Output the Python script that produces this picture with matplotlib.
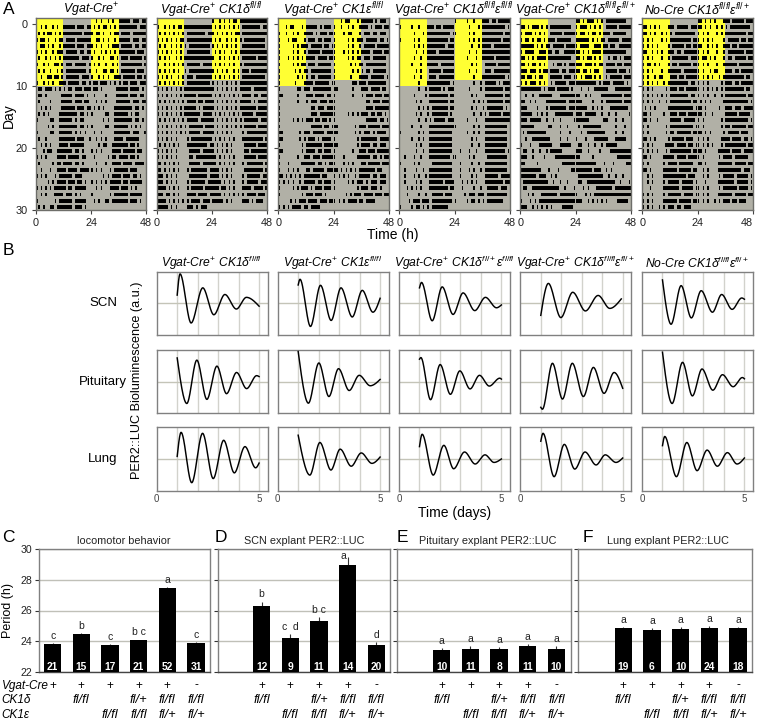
import numpy as np
import matplotlib
matplotlib.use('Agg')
import matplotlib.pyplot as plt
from matplotlib.patches import Rectangle
from matplotlib.transforms import blended_transform_factory

plt.rcParams['font.family'] = ['Liberation Sans', 'DejaVu Sans']
plt.rcParams['mathtext.fontset'] = 'custom'
plt.rcParams['mathtext.rm'] = 'Liberation Sans'
plt.rcParams['mathtext.it'] = 'Liberation Sans:italic'
plt.rcParams['mathtext.bf'] = 'Liberation Sans:bold'

W, H = 757, 721
fig = plt.figure(figsize=(W / 100, H / 100), dpi=100)


def axpx(l, t, r, b):
    return fig.add_axes([l / W, 1 - b / H, (r - l) / W, (b - t) / H])


def tpx(x, y, s, **k):
    k.setdefault('ha', 'center')
    k.setdefault('va', 'center')
    fig.text(x / W, 1 - y / H, s, **k)


# ---------- panel A: activity per day, one character per hour ----------
act_titles = ["Vgat-Cre$^{+}$", "Vgat-Cre$^{+}$ CK1δ$^{fl/fl}$", "Vgat-Cre$^{+}$ CK1ε$^{fl/fl}$",
              "Vgat-Cre$^{+}$ CK1δ$^{fl/fl}$ε$^{fl/fl}$", "Vgat-Cre$^{+}$ CK1δ$^{fl/fl}$ε$^{fl/+}$",
              "No-Cre CK1δ$^{fl/fl}$ε$^{fl/+}$"]
act1 = """..#.#..#.#..#####.###.##
.#.#.##.#.#.########.###
#.##.#..#.##.####.######
..##.#.#..#.#####.###.##
#.#.#..#.###.#####.##.##
.#..#.#.#.#.#######.###.
#..#.#..##.#.###.#####.#
.#.#..#..#.#.#########.#
..#..##.##.#.######.###.
#..#.#.#..###.#####.##.#
.##.###.#.#.#.##.###.###
.##.#......#####.####.#.
.#....#....#####.###.##.
..#.#.#....######.###.##
.#.#.#....########.##.#.
#.....##..######.#.##...
.....#.#..########.##.#.
#.....##..######.#.#.#..
.#..#.....#######.###..#
..#.#.#...####.######...
...#.##..#######.##.#...
#.#.#....####.#####.##..
.#.....#.##.####.##.#...
..#...#..####.####.####.
#.#.#...#.######.###....
.....#.#.####.###.##.#..
#.#.#.#.#####.##.#####..
..#.#...####.###.#.#....
#.......#.######.#####..
.#.#..##.#######.###.#..""".split()
act2 = """#..#.#.#.##.############
.#.#.#.#.#.#.########.##
#.#.#.#.#.##.###########
.#.#..#.#.#.#.#########.
#.#.#.#.#.#..##########.
.#.#.#..#.#.############
#..#.#.#.#.#.######.####
.#.#.#.#.#..#.##########
#.#.#.#..#.#.###.#######
.#.#.#.#.#.#.##########.
#.#.#.#.#.#.############
#.#.#.#.#.#.#####.######
.#.#.#.#.#.#.####.##.###
#.#.#.#.#.#.#####.#.####
#.#.#.#.#.#.#######.####
.#.#.#.#.#.#.#####.#####
#.#.#.#.#.#.#.######.###
#.#.#.#.#.#.#.#####.####
#.#.#.#.#....#.#########
.#.#.#.#.#...#########.#
#.#.#.#.#.....#####.####
#.#.#.#.#.....##.#######
##.#.#.#.#....#####.####
##.#.#.#.#...#.#######.#
###.#.#.#.....########.#
###.#.#.#....#.######.##
####.#.#.#...#.#####.###
###.##.#.#...####.####.#
####.#.#.#.#.#.####.###.
#####.#.#....###.#.###..""".split()
act3 = """...#.##...#.#####.#.###.
#..#..#.#..####.#.###.##
#...#.##...#.###.##.###.
#.....#.#.###.#####.##.#
#.....#.#..#.#####.#####
#...#.#.#.#.####.####.##
#.....#.#.##.###.######.
#......#.#.##.#########.
#.......#.#.#.##.######.
#......#...####.######.#
#.......##.###.########.
##......#...###.####.##.
#.......#...#.###.###.##
#.............##.###.###
#.............###.######
#.....#.#.#.###.##.##.#.
#.............#####.##.#
##.......#.###.#####.###
##.......#.#.###.#.####.
#.........#.#######.####
##........#.####.##.###.
#.......#..###.###.#####
#...#.....######.##.#.##
#...#.#.#...##.#####.###
##.#.#.#.#.#######.##...
#.#.#.#..#.#####.##.###.
#.....#.#.###.#.###.###.
#.........#.###.###.#...
.....#.#.###.####.###.##
#.#.#.####.##.####......""".split()
act4 = """#....#..#...###.##.#####
......#...#.##########.#
#.....#.#...#########.##
......#.#.#.########.###
.......#..#.####.#######
......#..#..############
.....#...#..#####.######
.......#.#...#####.#####
......#..#...###.#######
........#...##########.#
........#..#.#####.#.###
......#....#.########.##
.......#.#...########.##
........#.#.#.#######.##
.......#.#..#.#######.#.
........#..#.#.#####.###
.....#...#...###########
#.......#.#..##########.
.....#..#.#..##########.
.......#.#...##########.
.......#..#..##########.
..#...#..#...#########.#
#.....#.#.....#########.
..#....#..#..##########.
..#...#.#..#.##########.
..#....#.#...######.####
...#.#.#.#...########.##
...#....#..#..#####.###.
....#.###.###.#########.
#....#.##.#.#.#######...""".split()
act5 = """##.#.###.#.#.#########..
#.###.#.#.#..#####.#####
#.##.#.##.#.###.######..
######.#.#.##.#####.####
#.####..###.##.##..#####
##.#.#.####.##########..
##.#.##.#.#...#.##.#.###
###.###.#.##.####.##.###
##.##.#.##...#####.###.#
#.#.###.#.#..#.#####.###
#########.#.###.#####.#.
..#..#..######...#######
##..#.#....#########.###
###....#...#.#######.###
#####..#.#.#...########.
###.#####..#..#..#.....#
######......##...#..#...
.#.########......#...#..
..#..########....#..#...
#...#...######...#####..
.##..#..#..#.#####......
###..#....#....#########
##.....#..........######
#########...#...#.....##
#######.###..#.#........
.###########..#..#..#...
.##..############..#...#
...#.#...#######.#######
#...#.#.################
###..#.#.#.#.#....#####.""".split()
act6 = """##.#.#.#...###.#####.###
##.#.#..#.#.#.#########.
#.#.#...#.#.#########.##
#.#.#.#....#.#####.##.##
##..#.#.#..###.##.######
#.#.#...#..#.#######.###
#.##.#.#...#.##.#####.##
#.#.#...#..######.######
#.#..#.##...###.##.#####
#.#.#.#..#.#########.##.
#.#.#.....#.###.##.#####
#.#.#.#.#.#.########.##.
#.#.#..#..#.#########.##
.#.#.#.....###########.#
##.#.....#..###.###.####
##.#..#.....#####.#####.
#.#.......#.##########.#
#.#.......#.##.######.##
##.#.#.....#.#####.###..
#.#.#.....####.####.##.#
#.#.#.#...#.#########.##
##.#.....#####.####.####
#.#......#.####.######..
##.#.....######.#####.##
..#.#....##########.###.
..#.#....#.#####.#####.#
...#.....#######.#####.#
#.#.#....#.######.####.#
#.#.#....######.#####.##
#.#.#..#.#.###.##.###...""".split()
act_days = [act1, act2, act3, act4, act5, act6]
act_left = [35.7, 156.7, 278.3, 399.3, 520.3, 642.3]
LD_DAYS = 10
GREY_BG = '#b1b0a6'
YEL = '#ffff33'
FR = '#6e6e6a'


def runs(s):
    out, i = [], 0
    while i < len(s):
        if s[i] == '#':
            j = i
            while j < len(s) and s[j] == '#':
                j += 1
            if j - i == 1:
                out.append((i + 0.18, 0.64))
            else:
                out.append((i + 0.05, j - i - 0.1))
            i = j
        else:
            i += 1
    return out


for p, (days, left) in enumerate(zip(act_days, act_left)):
    ax = axpx(left, 18, left + 110.6, 210)
    ax.set_xlim(0, 48)
    ax.set_ylim(30, -1)
    ax.set_facecolor(GREY_BG)
    ax.add_patch(Rectangle((0, -1), 12, LD_DAYS + 1, fc=YEL, ec='none', zorder=1))
    ax.add_patch(Rectangle((24, -1), 12, LD_DAYS, fc=YEL, ec='none', zorder=1))
    for d, s in enumerate(days):
        r = runs(s)
        ax.broken_barh(r, (d + 0.2, 0.6), fc='black', ec='none', zorder=2)
        ax.broken_barh([(a + 24, b) for a, b in r], (d - 1 + 0.2, 0.6), fc='black', ec='none', zorder=2)
    ax.set_xticks([0, 24, 48])
    ax.set_yticks([0, 10, 20, 30])
    ax.tick_params(length=3, width=0.8, color='#444444', labelsize=7.8, labelcolor='#222222', pad=3)
    if p > 0:
        ax.set_yticklabels([])
    if p == 5:
        ax.get_xticklabels()[-1].set_ha('right')
        ax.get_xticklabels()[-1].set_x(48)
    for sp in ax.spines.values():
        sp.set_color(FR)
        sp.set_linewidth(1.0)
    tpx(left + 55, 10, act_titles[p], style='italic', fontsize=8.9)

tpx(8.5, 115.5, 'Day', rotation=90, fontsize=10)
tpx(393, 235, 'Time (h)', fontsize=10)
tpx(8.5, 10, 'A', fontsize=12.5)
tpx(8, 250, 'B', fontsize=12.5)

# ---------- panel B: explant traces, peak and trough readings ----------
b_titles = ["Vgat-Cre$^{+}$ CK1δ$^{fl/fl}$", "Vgat-Cre$^{+}$ CK1ε$^{fl/fl}$",
            "Vgat-Cre$^{+}$ CK1δ$^{fl/+}$ε$^{fl/fl}$", "Vgat-Cre$^{+}$ CK1δ$^{fl/fl}$ε$^{fl/+}$",
            "No-Cre CK1δ$^{fl/fl}$ε$^{fl/+}$"]
tissues = ['SCN', 'Pituitary', 'Lung']
b_left = [156.7, 277.7, 399.0, 520.3, 642.0]
b_top = [271.7, 350.0, 427.3]

t_11 = [1.0, 1.14, 1.68, 2.25, 2.79, 3.33, 3.89, 4.38, 5.0]
y_11 = [.26, .93, -.62, .49, -.36, .28, -.18, .19, -.09]
t_21 = [1.0, 1.47, 1.96, 2.45, 2.94, 3.41, 3.90, 4.39, 4.88, 5.0]
y_21 = [.75, -.69, .68, -.56, .49, -.38, .29, -.22, .19, .16]
t_31 = [1.0, 1.19, 1.71, 2.24, 2.76, 3.27, 3.79, 4.31, 4.83, 5.0]
y_31 = [.08, .84, -.75, .81, -.62, .59, -.44, .39, -.28, -.13]

t_12 = [1.0, 1.09, 1.60, 2.09, 2.61, 3.09, 3.64, 4.13, 4.65, 5.0]
y_12 = [.58, .76, -.73, .57, -.54, .49, -.43, .41, -.28, .16]
t_22 = [1.0, 1.50, 2.01, 2.50, 2.97, 3.49, 3.98, 4.52, 5.0]
y_22 = [.95, -.68, .59, -.47, .41, -.28, .20, -.13, .07]
t_32 = [1.0, 1.57, 2.06, 2.60, 3.05, 3.59, 4.08, 4.60, 5.0]
y_32 = [.75, -.51, .52, -.35, .31, -.23, .19, -.14, .06]

t_13 = [1.0, 1.10, 1.62, 2.11, 2.64, 3.13, 3.70, 4.22, 4.76, 5.0]
y_13 = [.49, .66, -.55, .52, -.35, .33, -.23, .19, -.14, -.05]
t_23 = [1.0, 1.07, 1.54, 2.01, 2.51, 2.97, 3.47, 3.93, 4.41, 4.92, 5.0]
y_23 = [.71, .76, -.57, .54, -.40, .34, -.23, .20, -.14, .11, .08]
t_33 = [1.0, 1.13, 1.67, 2.19, 2.67, 3.20, 3.72, 4.20, 4.64, 5.0]
y_33 = [.39, .78, -.51, .43, -.31, .22, -.16, .13, -.11, 0.0]

t_14 = [1.0, 1.37, 1.98, 2.56, 3.18, 3.80, 4.37, 4.93]
y_14 = [-.38, .63, -.45, .35, -.24, .25, -.16, .14]
t_24 = [1.0, 1.08, 1.57, 2.06, 2.54, 3.08, 3.57, 4.09, 4.58, 5.0]
y_24 = [-.81, -.87, .58, -.55, .58, -.47, .45, -.37, .29, -.21]
t_34 = [1.0, 1.11, 1.65, 2.15, 2.66, 3.16, 3.70, 4.15, 4.67, 5.0]
y_34 = [.56, .81, -.56, .46, -.32, .22, -.19, .13, -.11, .03]

t_15 = [1.0, 1.42, 1.91, 2.41, 2.89, 3.44, 3.89, 4.40, 4.87, 5.0]
y_15 = [.74, -.66, .56, -.46, .40, -.28, .28, -.19, .17, .13]
t_25 = [1.0, 1.47, 1.98, 2.46, 2.93, 3.46, 3.93, 4.45, 4.90, 5.0]
y_25 = [.93, -.69, .61, -.45, .40, -.27, .22, -.16, .13, .09]
t_35 = [1.0, 1.11, 1.68, 2.19, 2.69, 3.18, 3.68, 4.17, 4.64, 5.0]
y_35 = [.42, .71, -.56, .52, -.37, .28, -.23, .20, -.16, .03]

traces = [[(t_11, y_11), (t_12, y_12), (t_13, y_13), (t_14, y_14), (t_15, y_15)],
          [(t_21, y_21), (t_22, y_22), (t_23, y_23), (t_24, y_24), (t_25, y_25)],
          [(t_31, y_31), (t_32, y_32), (t_33, y_33), (t_34, y_34), (t_35, y_35)]]


def smooth(tk, yk):
    """Draw through readings: flat at peaks and troughs, open at both ends."""
    tk, yk = np.asarray(tk), np.asarray(yk)
    h = np.diff(tk)
    m = np.zeros(len(tk))
    m[0] = 1.5 * (yk[1] - yk[0]) / h[0]
    m[-1] = 1.5 * (yk[-1] - yk[-2]) / h[-1]
    xs, ys = [], []
    for i in range(len(h)):
        u = np.linspace(0, 1, 30)
        a = (2 * u**3 - 3 * u**2 + 1) * yk[i] + (u**3 - 2 * u**2 + u) * h[i] * m[i]
        b = (-2 * u**3 + 3 * u**2) * yk[i + 1] + (u**3 - u**2) * h[i] * m[i + 1]
        xs.append(tk[i] + u * h[i])
        ys.append(a + b)
    return np.concatenate(xs), np.concatenate(ys)


for r, top in enumerate(b_top):
    for c, left in enumerate(b_left):
        ax = axpx(left, top, left + 111, top + 63.3)
        ax.set_xlim(0, 5.42)
        ax.set_ylim(-1, 1)
        for v in range(1, 6):
            ax.axvline(v, color='#d2d2cc', lw=1.0, zorder=1)
        ax.axhline(0, color='#c4c4b8', lw=1.0, zorder=1)
        x, y = smooth(*traces[r][c])
        ax.plot(x, y, color='black', lw=1.05, zorder=3)
        ax.set_xticks([0, 5] if r == 2 else [])
        ax.set_yticks([])
        ax.tick_params(length=0, labelsize=7, labelcolor='#444444', pad=2.5)
        for sp in ax.spines.values():
            sp.set_color('#808080')
            sp.set_linewidth(1.0)
        if r == 0:
            tpx(left + 55, 263, b_titles[c], style='italic', fontsize=8.7)
    tpx(103, top + 31.5, tissues[r], fontsize=9.5)

tpx(137, 380, 'PER2::LUC Bioluminescence (a.u.)', rotation=90, fontsize=9.1)
tpx(455, 513, 'Time (days)', fontsize=10)

# ---------- panels C-F: period bars ----------
vgat = ['+', '+', '+', '+', '+', '-']
ck1d = ['', 'fl/fl', '', 'fl/+', 'fl/fl', 'fl/fl']
ck1e = ['', '', 'fl/fl', 'fl/fl', 'fl/+', 'fl/+']

pos_c = [0, 1, 2, 3, 4, 5]
per_c = [23.81, 24.44, 23.77, 24.05, 27.45, 23.87]
err_c = [.05, .08, .05, .05, .08, .05]
n_c = ['21', '15', '17', '21', '52', '31']
let_c = ['c', 'b', 'c', 'b c', 'a', 'c']

pos_d = [1, 2, 3, 4, 5]
per_d = [26.32, 24.2, 25.31, 28.98, 23.72]
err_d = [.26, .24, .24, .5, .22]
n_d = ['12', '9', '11', '14', '20']
let_d = ['b', 'c  d', 'b c', 'a', 'd']

per_e = [23.4, 23.46, 23.46, 23.68, 23.48]
err_e = [.13, .2, .13, .13, .2]
n_e = ['10', '11', '8', '11', '10']
let_e = ['a', 'a', 'a', 'a', 'a']

per_f = [24.86, 24.7, 24.77, 24.86, 24.83]
err_f = [.08, .15, .12, .12, .1]
n_f = ['19', '6', '10', '24', '18']
let_f = ['a', 'a', 'a', 'a', 'a']

panels = [
    ('locomotor behavior', 39.0, 210.3, -0.477, pos_c, per_c, err_c, n_c, let_c, 124),
    ('SCN explant PER2::LUC', 218.3, 390.0, -0.51, pos_d, per_d, err_d, n_d, let_d, 304),
    ('Pituitary explant PER2::LUC', 396.7, 570.7, -0.57, pos_d, per_e, err_e, n_e, let_e, 488),
    ('Lung explant PER2::LUC', 578.3, 752.3, -0.57, pos_d, per_f, err_f, n_f, let_f, 668),
]
for k, (title, l, rt, x0, pos, per, err, n, let, tx) in enumerate(panels):
    ax = axpx(l, 549.3, rt, 671.7)
    ax.set_xlim(x0, x0 + (rt - l) / 28.67)
    ax.set_ylim(22, 30)
    ax.set_yticks([22, 24, 26, 28, 30])
    if k > 0:
        ax.set_yticklabels([])
    ax.set_xticks([])
    ax.grid(axis='y', color='#c0c0b8', lw=1.0, zorder=1)
    ax.set_axisbelow(True)
    ax.bar(pos, per, width=0.61, color='black', zorder=3)
    ax.errorbar(pos, per, yerr=[np.zeros(len(err)), err], fmt='none', ecolor='#333333',
                elinewidth=0.8, capsize=0, zorder=2)
    ax.tick_params(length=3, width=0.8, color='#333333', labelsize=7.6, labelcolor='#222222', pad=2)
    for sp in ax.spines.values():
        sp.set_color('#808080')
        sp.set_linewidth(1.0)
    ax.spines['bottom'].set_color('#444444')
    for p, v, e, c, ltr in zip(pos, per, err, n, let):
        ax.text(p, 22.33, c, color='white', fontweight='bold', fontsize=7.4, ha='center', va='center', zorder=4)
        ly = v + e + 0.14
        lx = p
        if ly > 29.4:
            ly, lx = v + e - 0.22, p - 0.14
        ax.text(lx, ly, ltr, color='#222222', fontsize=7.5, ha='center', va='bottom')
    tpx(tx, 541, title, fontsize=7.8, color='#222222')
    tr = blended_transform_factory(ax.transData, fig.transFigure)
    for p in pos:
        ax.text(p, 1 - 685.5 / H, vgat[p], transform=tr, ha='center', va='center', fontsize=8.5, clip_on=False)
        ax.text(p, 1 - 700 / H, ck1d[p], transform=tr, ha='center', va='center', fontsize=9.3, style='italic', clip_on=False)
        ax.text(p, 1 - 715 / H, ck1e[p], transform=tr, ha='center', va='center', fontsize=9.3, style='italic', clip_on=False)

for s, y in zip(['Vgat-Cre', 'CK1δ', 'CK1ε'], [686, 700, 715]):
    tpx(1.5, y, s, ha='left', style='italic', fontsize=8.5)

tpx(8, 611, 'Period (h)', rotation=90, fontsize=9)
tpx(8, 538, 'C', fontsize=12.5)
tpx(221, 538, 'D', fontsize=12.5)
tpx(402, 538, 'E', fontsize=12.5)
tpx(588, 538, 'F', fontsize=12.5)

fig.savefig('out.png', dpi=100)
